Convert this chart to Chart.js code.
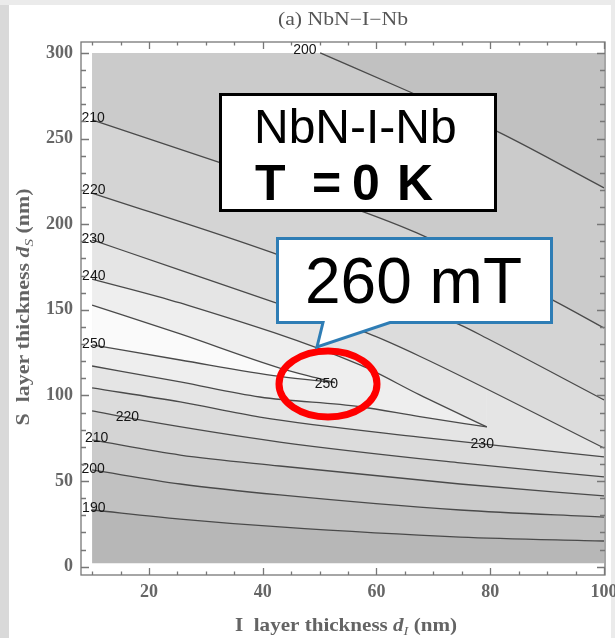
<!DOCTYPE html>
<html>
<head>
<meta charset="utf-8">
<script src="https://cdn.jsdelivr.net/npm/chart.js@4"></script>
<style>
  html, body { margin: 0; padding: 0; background: #e9e9e9; }
</style>
</head>
<body>
<canvas id="myChart" width="615" height="638"></canvas>
<script>
// contour levels (mT) and branch lines: [d_I (nm), d_S (nm)]
const levels = [190, 200, 210, 220, 230, 240, 250];

const lower190 = [[10, 33.1], [25.5, 27.8], [43, 23.2], [74.7, 17.3], [100, 15.0]];
const lower200 = [[10, 56.5], [25.5, 48.3], [43, 41.9], [74.7, 33.1], [100, 29.0]];
const lower210 = [[10, 74.0], [25.5, 65.2], [43, 58.8], [74.7, 48.3], [100, 41.3]];
const lower220 = [[10, 91.0], [18.4, 85.7], [43, 72.8], [74.7, 60.6], [100, 52.4]];
const lower230 = [[10, 104.4], [25.5, 96.2], [39.5, 87.4], [67.6, 75.7], [100, 64.1]];
const lower240 = [[10, 117.2], [25.5, 107.9], [39.5, 99.1], [57.1, 93.4], [67.6, 87.6], [79.4, 81.6]];
const lower250 = [[10, 129.5], [25.5, 120.7], [43, 111.1], [52.7, 107.5]];

const upper250 = [[10, 152.8], [25.5, 135.9], [43, 116.0], [49.5, 110.2], [52.7, 107.5]];
const upper240 = [[10, 168.0], [25.5, 154.0], [57.1, 117.8], [67.6, 100.3], [79.4, 81.6]];
const upper230 = [[10, 190.8], [25.5, 173.2], [41.8, 154.6], [58.3, 136.5], [67.6, 122.9], [100, 69.3]];
const upper220 = [[10, 218.2], [41.8, 183.2], [74.7, 141.2], [79.4, 133.4], [100, 97.4]];
const upper210 = [[10, 260.9], [32.1, 236.4], [58.3, 206.5], [67.1, 194.9], [91, 155.7], [100, 139.4]];
const upper200 = [[50.1, 300], [65.9, 277.2], [81.4, 253.9], [100, 221.2]];

// computed domain: d_I 10..100, d_S 2..300
const domainBottom = [[10, 2], [100, 2]];
const domainTop = 300;

// contour labels
const labelText = ['200', '210', '220', '230', '240', '250', '250', '220', '210', '200', '190', '230'];
const labelX = [47.4, 10.2, 10.3, 10.2, 10.3, 10.3, 51.2, 16.2, 10.8, 10.2, 10.3, 78.6];
const labelY = [301.8, 262.0, 219.8, 191.4, 169.4, 129.9, 106.5, 87.6, 75.0, 56.9, 34.1, 71.5];

const xTicks = [20, 40, 60, 80, 100];
const yTicks = [0, 50, 100, 150, 200, 250, 300];

// gray shades: below 190, 190-200, ..., above 250
const shades = ['#b7b7b7', '#c1c1c1', '#cbcbcb', '#d4d4d4', '#dcdcdc', '#e5e5e5', '#eeeeee', '#fafafa'];

const toPts = arr => arr.map(p => ({x: p[0], y: p[1]}));

// painter's order: each step fills everything above its line up to d_S = 300
const fillSteps = [
  [domainBottom, shades[0]],
  [lower190, shades[1]],
  [lower200, shades[2]],
  [lower210, shades[3]],
  [lower220, shades[4]],
  [lower230, shades[5]],
  [lower240, shades[6]],
  [lower250, shades[7]],
  [upper250, shades[6]],
  [upper240, shades[5]],
  [upper230, shades[4]],
  [upper220, shades[3]],
  [upper210, shades[2]],
  [upper200, shades[1]]
];
const contourLines = [lower190, lower200, lower210, lower220, lower230, lower240, lower250,
  upper250, upper240, upper230, upper220, upper210, upper200];

const datasets = [];
fillSteps.forEach((s, i) => {
  datasets.push({
    data: toPts(s[0]),
    borderWidth: 0,
    pointRadius: 0,
    backgroundColor: s[1],
    fill: {value: domainTop},
    order: 100 - i
  });
});
contourLines.forEach(line => {
  datasets.push({
    data: toPts(line),
    borderColor: '#4a4a4a',
    borderWidth: 1.3,
    pointRadius: 0,
    fill: false,
    order: 0
  });
});

const bgPlugin = {
  id: 'bg',
  beforeDraw(chart) {
    const ctx = chart.ctx;
    ctx.save();
    ctx.fillStyle = '#ebebeb';
    ctx.fillRect(0, 0, 615, 638);
    ctx.fillStyle = '#d9d9d9';
    ctx.fillRect(0, 5, 9, 633);
    ctx.fillStyle = '#ffffff';
    ctx.fillRect(9, 5, 602, 633);
    ctx.restore();
  }
};

const framePlugin = {
  id: 'frame',
  afterDatasetsDraw(chart) {
    const {ctx, chartArea: a, scales: {x, y}} = chart;
    ctx.save();
    // contour labels
    ctx.beginPath();
    ctx.rect(a.left, a.top, a.right - a.left, a.bottom - a.top);
    ctx.clip();
    ctx.fillStyle = '#151515';
    ctx.font = '14px "Liberation Sans", Arial, sans-serif';
    ctx.textAlign = 'center';
    ctx.textBaseline = 'middle';
    labelText.forEach((t, i) => {
      ctx.fillText(t, x.getPixelForValue(labelX[i]), y.getPixelForValue(labelY[i]));
    });
    ctx.restore();

    ctx.save();
    ctx.strokeStyle = '#777777';
    ctx.lineWidth = 1.3;
    ctx.strokeRect(a.left, a.top, a.right - a.left, a.bottom - a.top);
    ctx.beginPath();
    for (let v = 10; v <= 100; v += 5) {
      const len = v % 20 === 0 ? 7 : 3.5;
      const px = Math.round(x.getPixelForValue(v)) + 0.5;
      ctx.moveTo(px, a.bottom); ctx.lineTo(px, a.bottom - len);
      ctx.moveTo(px, a.top); ctx.lineTo(px, a.top + len);
    }
    for (let v = 0; v <= 300; v += 10) {
      const len = v % 50 === 0 ? 8 : 5;
      const py = Math.round(y.getPixelForValue(v)) + 0.5;
      ctx.moveTo(a.left, py); ctx.lineTo(a.left + len, py);
      ctx.moveTo(a.right, py); ctx.lineTo(a.right - len, py);
    }
    ctx.stroke();
    ctx.restore();
  }
};

function drawRuns(ctx, runs, cx, baseY, targetW) {
  let w = 0;
  runs.forEach(r => { ctx.font = r.font; r.w = ctx.measureText(r.t).width; w += r.w; });
  const sx = targetW ? targetW / w : 1;
  ctx.save();
  ctx.translate(cx, baseY);
  ctx.scale(sx, 1);
  ctx.textAlign = 'left';
  ctx.textBaseline = 'alphabetic';
  let xx = -w / 2;
  runs.forEach(r => { ctx.font = r.font; ctx.fillText(r.t, xx, r.dy || 0); xx += r.w; });
  ctx.restore();
}

const serifB = 'bold 19px "Liberation Serif", serif';
const serifBI = 'italic bold 19px "Liberation Serif", serif';
const serifSub = 'italic 13px "Liberation Serif", serif';

const overlayPlugin = {
  id: 'overlay',
  afterDraw(chart) {
    const ctx = chart.ctx;
    ctx.save();
    // plot label and axis titles
    ctx.fillStyle = '#555555';
    drawRuns(ctx, [{t: '(a) NbN\u2212I\u2212Nb', font: '18px "Liberation Serif", serif'}], 343, 25, 130);
    ctx.fillStyle = '#646464';
    drawRuns(ctx, [
      {t: 'I  layer thickness ', font: serifB},
      {t: 'd', font: serifBI},
      {t: 'I', font: serifSub, dy: 4},
      {t: ' (nm)', font: serifB}
    ], 346, 631, 222);
    ctx.save();
    ctx.translate(29, 307);
    ctx.rotate(-Math.PI / 2);
    drawRuns(ctx, [
      {t: 'S  layer thickness ', font: serifB},
      {t: 'd', font: serifBI},
      {t: 'S', font: serifSub, dy: 4},
      {t: ' (nm)', font: serifB}
    ], 0, 0, 237);
    ctx.restore();

    // red ellipse
    ctx.strokeStyle = '#ff0000';
    ctx.lineWidth = 7;
    ctx.beginPath();
    ctx.ellipse(328, 384, 49, 33, 0, 0, Math.PI * 2);
    ctx.stroke();

    // NbN-I-Nb box
    ctx.fillStyle = '#ffffff';
    ctx.fillRect(220.5, 94.5, 275, 116);
    ctx.strokeStyle = '#000000';
    ctx.lineWidth = 3;
    ctx.strokeRect(220.5, 94.5, 275, 116);
    ctx.fillStyle = '#000000';
    ctx.textAlign = 'left';
    ctx.textBaseline = 'alphabetic';
    ctx.font = '48px "Liberation Sans", Arial, sans-serif';
    ctx.fillText('NbN-I-Nb', 254, 143);
    ctx.font = 'bold 50px "Liberation Sans", Arial, sans-serif';
    ctx.fillText('T', 255, 200);
    ctx.fillText('=', 312, 200);
    ctx.fillText('0', 352, 200);
    ctx.fillText('K', 397, 200);

    // callout
    ctx.beginPath();
    ctx.moveTo(277.5, 238.5);
    ctx.lineTo(551.5, 238.5);
    ctx.lineTo(551.5, 322.5);
    ctx.lineTo(390, 322.5);
    ctx.lineTo(317, 347);
    ctx.lineTo(323, 322.5);
    ctx.lineTo(277.5, 322.5);
    ctx.closePath();
    ctx.fillStyle = '#ffffff';
    ctx.fill();
    ctx.strokeStyle = '#2e7db5';
    ctx.lineWidth = 3;
    ctx.lineJoin = 'miter';
    ctx.stroke();
    ctx.fillStyle = '#000000';
    ctx.font = '64px "Liberation Sans", Arial, sans-serif';
    ctx.fillText('260 mT', 305, 303);
    ctx.restore();
  }
};

const tickFont = {family: '"Liberation Serif", serif', size: 18, weight: 'bold'};

const ctx = document.getElementById('myChart').getContext('2d');
const chart = new Chart(ctx, {
  type: 'line',
  data: {datasets: datasets},
  options: {
    responsive: false,
    animation: false,
    devicePixelRatio: 1,
    layout: {padding: {top: 42, right: 10, left: 0, bottom: 0}},
    plugins: {legend: {display: false}, tooltip: {enabled: false}},
    elements: {line: {cubicInterpolationMode: 'monotone'}},
    scales: {
      x: {
        type: 'linear',
        min: 8.05,
        max: 100.18,
        grid: {display: false, drawTicks: false},
        border: {display: false},
        ticks: {padding: 7, font: tickFont, color: '#666666', maxRotation: 0},
        afterBuildTicks: s => { s.ticks = xTicks.map(v => ({value: v})); },
        afterFit: s => { s.height = 63; s.paddingLeft = 0; s.paddingRight = 0; }
      },
      y: {
        type: 'linear',
        min: -4.85,
        max: 306.4,
        grid: {display: false, drawTicks: false},
        border: {display: false},
        ticks: {padding: 8, font: tickFont, color: '#666666'},
        afterBuildTicks: s => { s.ticks = yTicks.map(v => ({value: v})); },
        afterFit: s => { s.width = 81; s.paddingTop = 0; s.paddingBottom = 0; }
      }
    }
  },
  plugins: [bgPlugin, framePlugin, overlayPlugin]
});
</script>
</body>
</html>
